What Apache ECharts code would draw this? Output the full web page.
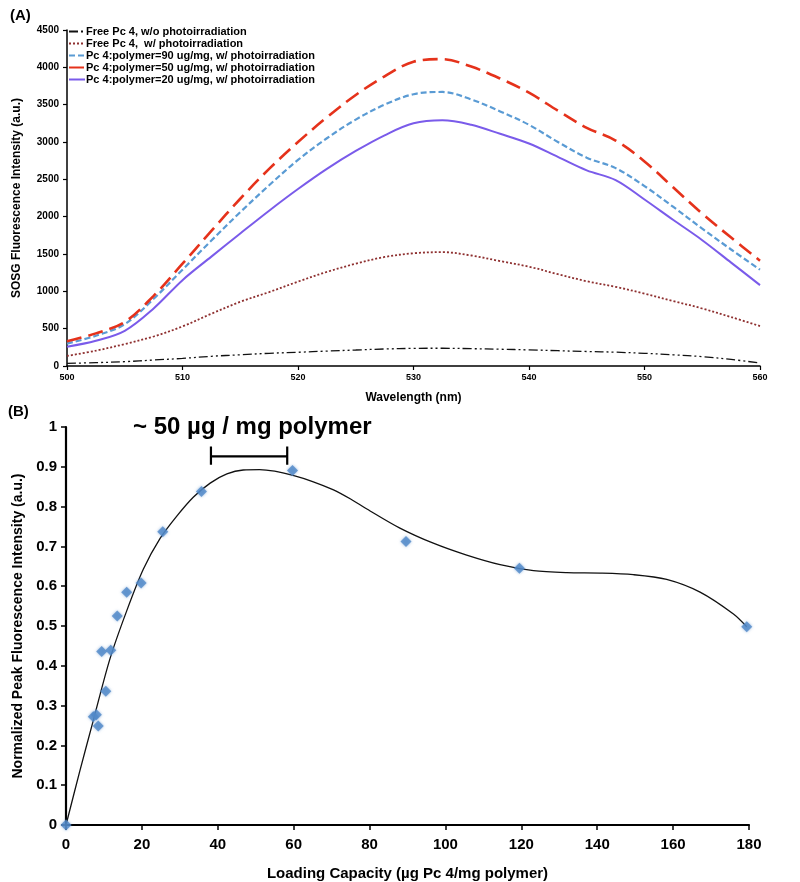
<!DOCTYPE html>
<html><head><meta charset="utf-8">
<script src="https://cdn.jsdelivr.net/npm/echarts@6/dist/echarts.min.js"></script>
<style>html,body{margin:0;padding:0;background:#fff}#c{width:800px;height:882px}</style>
</head><body><div id="c"></div>
<script>
// ---------- Panel A data ----------
const wavelengths = [500,502.5,505,507.5,510,512.5,515,517.5,520,522.5,525,527.5,530,532.5,535,537.5,540,542.5,545,547.5,550,552.5,555,557.5,560];
const freeNoLight = [35,45,58,80,102,130,150,170,184,200,214,228,236,238,232,225,216,205,194,185,170,150,125,88,40];
const freeLight   = [135,205,294,395,530,700,860,990,1130,1260,1370,1460,1510,1525,1480,1405,1330,1230,1135,1060,970,870,770,655,535];
const poly90      = [300,405,560,900,1290,1680,2060,2420,2760,3050,3300,3500,3640,3670,3570,3410,3230,3000,2790,2650,2410,2130,1840,1560,1290];
const poly50      = [330,437,590,940,1370,1810,2240,2640,3000,3330,3630,3880,4075,4110,4010,3850,3660,3420,3190,3020,2740,2390,2040,1720,1410];
const poly20      = [258,338,472,771,1150,1465,1775,2080,2370,2640,2880,3090,3250,3290,3230,3110,2980,2800,2620,2490,2230,1955,1685,1385,1083];
const seriesNames = [
  'Free Pc 4, w/o photoirradiation',
  'Free Pc 4,  w/ photoirradiation',
  'Pc 4:polymer=90 ug/mg, w/ photoirradiation',
  'Pc 4:polymer=50 ug/mg, w/ photoirradiation',
  'Pc 4:polymer=20 ug/mg, w/ photoirradiation'
];
const yTicksA = [0,4500,500];
const xTicksA = [500,560,10];

// ---------- Panel B data ----------
const loadX = [0,7.2,8.0,8.5,9.4,10.5,11.8,13.5,16.0,19.8,25.5,35.7,59.7,89.6,119.5,179.4];
const loadY = [0,0.272,0.277,0.249,0.436,0.336,0.439,0.525,0.585,0.608,0.737,0.838,0.891,0.7125,0.645,0.498];
const fitX = [0,3.6,7.2,11.6,16,20.4,24.8,29.2,33.6,38,42.4,46.7,51,55,59.6,65,70.5,75,79.3,88,96.8,105.6,114.4,123.2,132,140.8,149.5,158.3,167.1,175.9,179.4];
const fitY = [0,0.134,0.263,0.418,0.538,0.643,0.72,0.776,0.824,0.859,0.882,0.892,0.893,0.889,0.879,0.863,0.842,0.819,0.794,0.746,0.708,0.678,0.654,0.639,0.634,0.633,0.629,0.617,0.585,0.53,0.498];
const bracketX = [38.2,58.3];
const bracketY = [0.905,0.926,0.951];
const annotation = '~ 50 µg / mg polymer';

const FONT = 'Liberation Sans, Arial, sans-serif';
const pair = (xs, ys) => xs.map((x,i)=>[x, ys[i]]);

const lineStyles = [
  {color:'#111', width:1.3, type:[9,3,2,3,2,3]},
  {color:'#8E2F2F', width:1.8, type:[2,2]},
  {color:'#5A9BD4', width:2.2, type:[6,3]},
  {color:'#E5321B', width:2.6, type:[15,7]},
  {color:'#7A5BEA', width:2.0, type:'solid'}
];
const aData = [freeNoLight, freeLight, poly90, poly50, poly20];

const seriesA = aData.map((vals, i) => ({
  name: seriesNames[i], type:'line', xAxisIndex:0, yAxisIndex:0,
  data: pair(wavelengths, vals), smooth:0.35, showSymbol:false, symbol:'none',
  lineStyle: lineStyles[i], itemStyle:{color: lineStyles[i].color}, z: 2+i
}));

const axisCommon = {
  axisLine:{show:true, lineStyle:{color:'#000', width:1.5}},
  axisTick:{show:true, inside:false, length:4, lineStyle:{color:'#000', width:1.2}},
  splitLine:{show:false}
};

const option = {
  animation:false,
  backgroundColor:'#fff',
  textStyle:{fontFamily:FONT},
  grid:[
    {left:67, right:40, top:30, bottom:516},
    {left:66, right:51, top:427, bottom:55}
  ],
  legend:{
    data: seriesNames, orient:'vertical', left:68, top:26, itemGap:1,
    itemWidth:16, itemHeight:11, padding:0,
    itemStyle:{opacity:0, borderWidth:0},
    textStyle:{fontFamily:FONT, fontSize:11, fontWeight:'bold', color:'#000', padding:[0,0,0,-4]}
  },
  xAxis:[
    Object.assign({}, axisCommon, {gridIndex:0, type:'value', min:xTicksA[0], max:xTicksA[1], interval:xTicksA[2],
      name:'Wavelength (nm)', nameLocation:'middle', nameGap:26,
      nameTextStyle:{fontFamily:FONT, fontSize:12, fontWeight:'bold', color:'#000'},
      axisLabel:{fontFamily:FONT, fontSize:9, fontWeight:'bold', color:'#000', margin:7}}),
    Object.assign({}, axisCommon, {gridIndex:1, type:'value', min:0, max:180, interval:20,
      axisLine:{show:true, lineStyle:{color:'#000', width:2.2}},
      axisTick:{show:true, length:5, lineStyle:{color:'#000', width:1.5}},
      name:'Loading Capacity (µg Pc 4/mg polymer)', nameLocation:'middle', nameGap:41,
      nameTextStyle:{fontFamily:FONT, fontSize:15, fontWeight:'bold', color:'#000'},
      axisLabel:{fontFamily:FONT, fontSize:15, fontWeight:'bold', color:'#000', margin:12}})
  ],
  yAxis:[
    Object.assign({}, axisCommon, {gridIndex:0, type:'value', min:yTicksA[0], max:yTicksA[1], interval:yTicksA[2],
      name:'SOSG Fluorescence Intensity (a.u.)', nameLocation:'middle', nameGap:44,
      nameTextStyle:{fontFamily:FONT, fontSize:12, fontWeight:'bold', color:'#000'},
      axisLabel:{fontFamily:FONT, fontSize:10, fontWeight:'bold', color:'#000', margin:8,
        formatter:(v)=>String(v)}}),
    Object.assign({}, axisCommon, {gridIndex:1, type:'value', min:0, max:1, interval:0.1,
      axisLine:{show:true, lineStyle:{color:'#000', width:2.2}},
      axisTick:{show:true, length:5, lineStyle:{color:'#000', width:1.5}},
      name:'Normalized Peak Fluorescence Intensity (a.u.)', nameLocation:'middle', nameGap:38,
      nameTextStyle:{fontFamily:FONT, fontSize:14, fontWeight:'bold', color:'#000'},
      axisLabel:{fontFamily:FONT, fontSize:15, fontWeight:'bold', color:'#000', margin:9}})
  ],
  graphic:[
    {type:'text', left:10, top:8, style:{text:'(A)', font:'bold 15px '+FONT, fill:'#000'}},
    {type:'text', left:8, top:404, style:{text:'(B)', font:'bold 15px '+FONT, fill:'#000'}},
    {type:'text', left:133, top:415, style:{text:annotation, font:'bold 24px '+FONT, fill:'#000'}}
  ],
  series: seriesA.concat([
    {type:'line', xAxisIndex:1, yAxisIndex:1, data: pair(fitX, fitY), smooth:0.3,
     showSymbol:false, symbol:'none', lineStyle:{color:'#111', width:1.3}, z:3, silent:true},
    {type:'scatter', xAxisIndex:1, yAxisIndex:1, data: pair(loadX, loadY), symbol:'diamond', symbolSize:11,
     itemStyle:{color:'#5088C8', shadowBlur:3, shadowColor:'rgba(80,136,200,0.7)'}, z:4},
    {type:'line', xAxisIndex:1, yAxisIndex:1, showSymbol:false, symbol:'none', connectNulls:false,
     lineStyle:{color:'#000', width:2.2}, z:5,
     data:[[bracketX[0],bracketY[0]],[bracketX[0],bracketY[2]],'-',
           [bracketX[0],bracketY[1]],[bracketX[1],bracketY[1]],'-',
           [bracketX[1],bracketY[0]],[bracketX[1],bracketY[2]]]}
  ])
};
const chart = echarts.init(document.getElementById('c'), null, {renderer:'canvas'});
chart.setOption(option);
</script></body></html>
